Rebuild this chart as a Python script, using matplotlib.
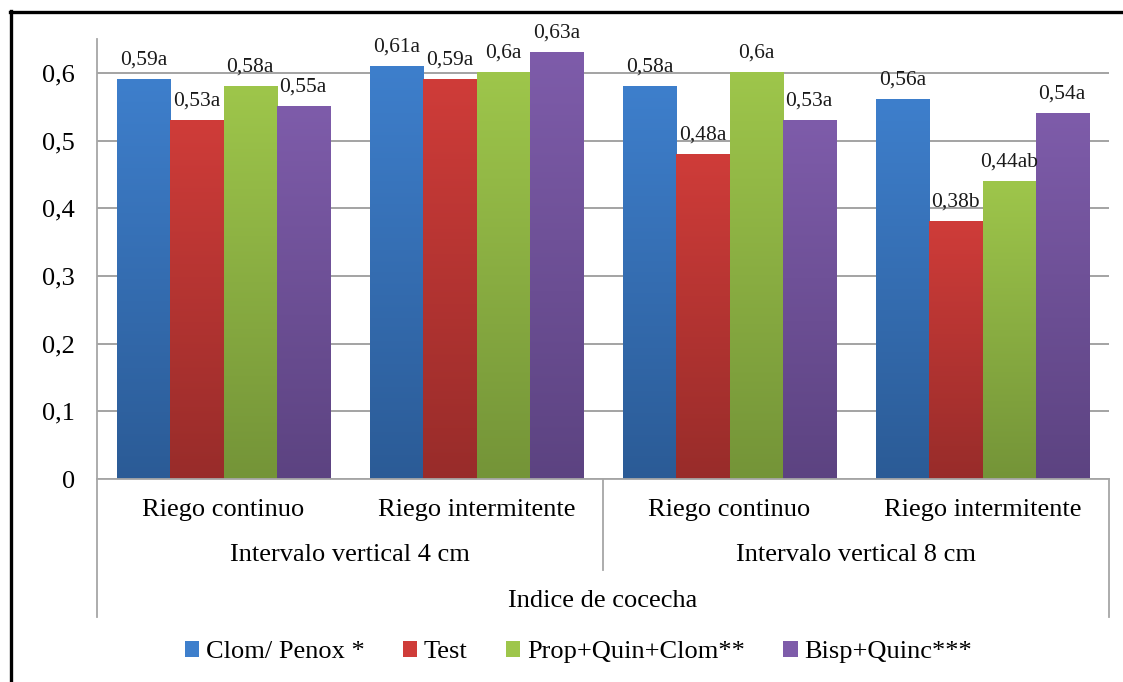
import numpy as np
import matplotlib
matplotlib.use("Agg")
import matplotlib.pyplot as plt
from matplotlib.colors import LinearSegmentedColormap
from matplotlib.patches import Patch
from matplotlib.lines import Line2D

plt.rcParams["font.family"] = ["Liberation Serif", "DejaVu Serif"]

# categorias del eje x (dos niveles)
riego = ["Riego continuo", "Riego intermitente", "Riego continuo", "Riego intermitente"]
intervalos = ["Intervalo vertical 4 cm", "Intervalo vertical 8 cm"]
titulo_x = "Indice de cocecha"
tratamientos = ["Clom/ Penox *", "Test", "Prop+Quin+Clom**", "Bisp+Quinc***"]

# indice de cosecha por tratamiento
clom = [0.59, 0.61, 0.58, 0.56]
test = [0.53, 0.59, 0.48, 0.38]
prop = [0.58, 0.60, 0.60, 0.44]
bisp = [0.55, 0.63, 0.53, 0.54]

# letras de significancia
let_clom = ["a", "a", "a", "a"]
let_test = ["a", "a", "a", "b"]
let_prop = ["a", "a", "a", "ab"]
let_bisp = ["a", "a", "a", "a"]

series = [clom, test, prop, bisp]
letras = [let_clom, let_test, let_prop, let_bisp]
# (claro arriba, oscuro abajo) como el degradado de Excel
colores = [("#3e7fcc", "#2b5b96"),
           ("#cf3c39", "#982c2a"),
           ("#9ec64b", "#749438"),
           ("#7e5caa", "#5c4381")]

fig = plt.figure(figsize=(11.23, 6.82), dpi=100)
ax = fig.add_axes([97/1123, 1-479/682, (1109-97)/1123, 440/682])

w = 0.21
x = np.arange(len(riego))
grad = np.linspace(1, 0, 256).reshape(-1, 1)

for i, (vals, lets, (c_top, c_bot)) in enumerate(zip(series, letras, colores)):
    cmap = LinearSegmentedColormap.from_list("g%d" % i, [c_bot, c_top])
    xs = x + (i - 1.5) * w
    for xc, v, l in zip(xs, vals, lets):
        ax.imshow(grad, extent=[xc - w/2, xc + w/2, 0, v], aspect="auto",
                  cmap=cmap, origin="upper", zorder=2, interpolation="bicubic")
        etiqueta = ("%g" % v).replace(".", ",") + l
        ax.annotate(etiqueta, (xc, v), xytext=(0, 14), textcoords="offset points",
                    ha="center", va="center", fontsize=15.5, color="#1a1a1a", zorder=3)

ax.set_xlim(-0.5, 3.5)
ax.set_ylim(0, 0.65)
ax.set_yticks(np.arange(0, 0.61, 0.1))
ax.set_yticklabels([("%g" % t).replace(".", ",") for t in np.arange(0, 0.61, 0.1)])
ax.yaxis.grid(True, color="#8a8a8a", lw=1.1, zorder=0)
ax.set_axisbelow(True)
ax.tick_params(axis="y", length=0, pad=16, labelsize=19)
ax.tick_params(axis="x", length=0)
ax.set_xticks([])

for s in ["top", "right"]:
    ax.spines[s].set_visible(False)
for s in ["left", "bottom"]:
    ax.spines[s].set_color("#a6a6a6")
    ax.spines[s].set_linewidth(1.3)

# eje de categorias en dos niveles
trans = ax.get_xaxis_transform()
for xc, lab in zip(x, riego):
    ax.text(xc, -0.0705, lab, transform=trans, ha="center", va="center", fontsize=19)
for k, lab in enumerate(intervalos):
    ax.text(2*k + 0.5, -0.173, lab, transform=trans, ha="center", va="center", fontsize=19)
ax.text(1.5, -0.277, titulo_x, transform=trans, ha="center", va="center", fontsize=19)

for xs, ybot in [(-0.5, -0.314), (1.5, -0.207), (3.5, -0.314)]:
    ax.add_line(Line2D([xs, xs], [0, ybot], transform=trans, color="#a6a6a6",
                       lw=1.3, clip_on=False))

handles = [Patch(facecolor=c[0], edgecolor="none") for c in colores]
fig.legend(handles, tratamientos, ncol=4, loc="center", bbox_to_anchor=(0.515, 1-652/682),
           frameon=False, fontsize=19, handlelength=0.55, handleheight=0.55,
           handletextpad=0.25, columnspacing=1.45)

# marco negro del grafico
fig.add_artist(Line2D([11/1123, 11/1123], [0, 1-11/682], color="black", lw=2.4))
fig.add_artist(Line2D([10/1123, 1], [1-11.5/682, 1-11.5/682], color="black", lw=2.4))

fig.savefig("out.png", dpi=100)
